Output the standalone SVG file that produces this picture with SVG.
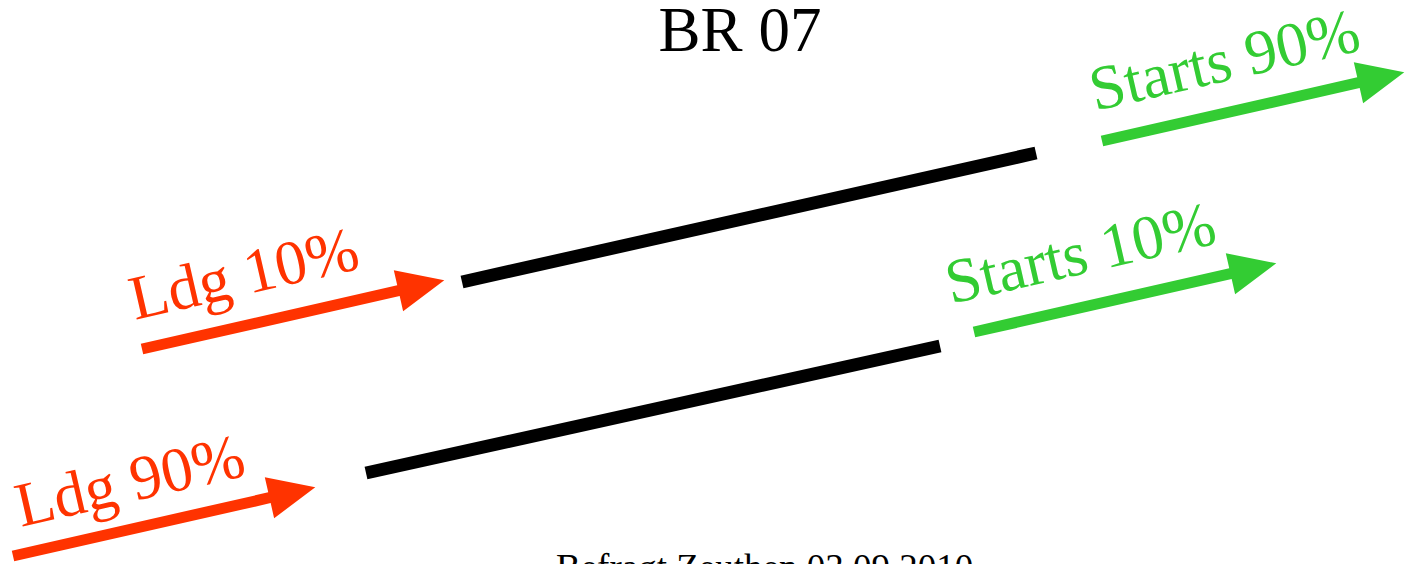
<svg xmlns="http://www.w3.org/2000/svg" width="1405" height="564" viewBox="0 0 1405 564">
  <style>
    text { font-family: "Liberation Serif", "Times New Roman", serif; }
    .title { font-size: 63px; fill: #000; }
    .lbl { font-size: 63px; }
    .ldg { fill: #FF3300; }
    .start { fill: #33CC33; }
    .foot { font-size: 37px; fill: #000; }
    .runway { stroke: #000; stroke-width: 13; stroke-linecap: butt; fill: none; }
  </style>
  <defs>
    <!-- arrow along +x, 310 long: shaft plus triangular head -->
    <path id="arrow" d="M0,-5.5 L263,-5.5 L263,-21 L310,0 L263,21 L263,5.5 L0,5.5 Z"/>
  </defs>

  <rect width="1405" height="564" fill="#fff"/>

  <g id="title">
    <text class="title" x="740" y="51" text-anchor="middle">BR 07</text>
  </g>

  <!-- runways -->
  <g id="connectors">
    <line class="runway" x1="366" y1="473" x2="940" y2="346"/>
    <line class="runway" x1="462" y1="282" x2="1036" y2="153"/>
  </g>

  <g id="ldg90">
    <use href="#arrow" class="ldg" transform="translate(13,556) rotate(-12.8)"/>
    <text class="lbl ldg" transform="translate(21,527) rotate(-12.9)">Ldg 90%</text>
  </g>

  <g id="ldg10">
    <use href="#arrow" class="ldg" transform="translate(142,349) rotate(-12.8)"/>
    <text class="lbl ldg" transform="translate(135,320) rotate(-12.9)">Ldg 10%</text>
  </g>

  <g id="starts10">
    <use href="#arrow" class="start" transform="translate(974,332) rotate(-12.8)"/>
    <text class="lbl start" transform="translate(951,304) rotate(-12.9)">Starts 10%</text>
  </g>

  <g id="starts90">
    <use href="#arrow" class="start" transform="translate(1102,141) rotate(-12.8)"/>
    <text class="lbl start" transform="translate(1095,111) rotate(-12.9)">Starts 90%</text>
  </g>

  <g id="footer">
    <text class="foot" x="556" y="580">Befragt Zeuthen 03.09.2010</text>
  </g>
</svg>
